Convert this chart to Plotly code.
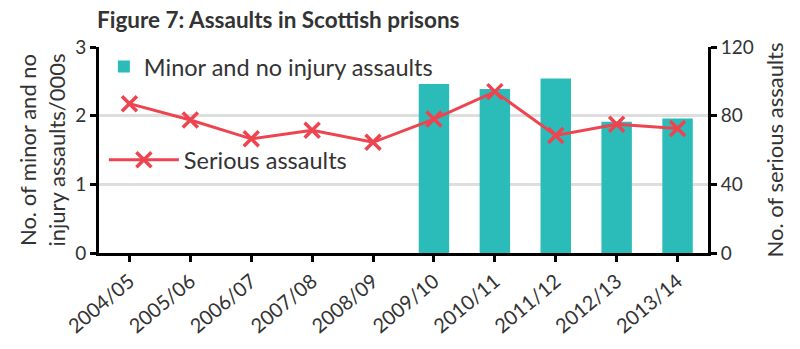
import plotly.graph_objects as go

years = ["2004/05", "2005/06", "2006/07", "2007/08", "2008/09",
         "2009/10", "2010/11", "2011/12", "2012/13", "2013/14"]
minor_000s = [None, None, None, None, None, 2.46, 2.39, 2.54, 1.91, 1.96]
serious = [87, 77.5, 66.5, 71.5, 64.5, 78, 94, 68.5, 75, 72.5]

TEAL = "#2bbcb9"
RED = "#ee4450"
TXT = "#333333"
FONT = "Lato"

fig = go.Figure()
fig.add_trace(go.Bar(
    x=years, y=minor_000s, name="Minor and no injury assaults",
    marker=dict(color=TEAL, line=dict(width=0)), width=0.5,
    legend="legend", yaxis="y", showlegend=True,
))
fig.add_trace(go.Scatter(
    x=years, y=serious, name="Serious assaults", mode="lines+markers",
    line=dict(color=RED, width=3),
    marker=dict(symbol="x-thin", size=15, line=dict(color=RED, width=3.5)),
    legend="legend2", yaxis="y2", showlegend=True,
))

axis_common = dict(
    showline=True, linecolor="black", linewidth=3,
    ticks="outside", ticklen=6, tickwidth=3, tickcolor="black",
    tickfont=dict(size=19, color=TXT, family=FONT),
)

fig.update_layout(
    width=800, height=349,
    margin=dict(l=99, r=92, t=47, b=94),
    paper_bgcolor="white", plot_bgcolor="white",
    font=dict(family=FONT, color=TXT),
    showlegend=True,
    title=dict(text="<b>Figure 7: Assaults in Scottish prisons</b>",
               x=97/800, xanchor="left", y=1-20/349, yanchor="middle",
               font=dict(size=22.5, color=TXT, family=FONT)),
    xaxis=dict(**{**axis_common, "tickfont": dict(size=20, color=TXT, family=FONT)},
               range=[-0.5, 9.5], tickangle=-40, showgrid=False),
    yaxis=dict(**axis_common, range=[0, 3], dtick=1,
               showgrid=True, gridcolor="#dedede", gridwidth=3,
               zeroline=False,
               title=dict(text="No. of minor and no<br>injury assaults/000s",
                          font=dict(size=22, color=TXT, family=FONT),
                          standoff=4)),
    yaxis2=dict(**axis_common, range=[0, 120], dtick=40, overlaying="y",
                side="right", showgrid=False, zeroline=False,
                title=dict(text="No. of serious assaults",
                           font=dict(size=22, color=TXT, family=FONT),
                           standoff=15)),
    legend=dict(x=0.008, y=0.904, xanchor="left", yanchor="middle",
                bgcolor="rgba(0,0,0,0)",
                font=dict(size=23.5, color=TXT, family=FONT)),
    legend2=dict(x=0.008, y=0.452, xanchor="left", yanchor="middle",
                 itemwidth=70,
                 bgcolor="rgba(0,0,0,0)",
                 font=dict(size=23.5, color=TXT, family=FONT)),
)

fig.write_html("out.html")
